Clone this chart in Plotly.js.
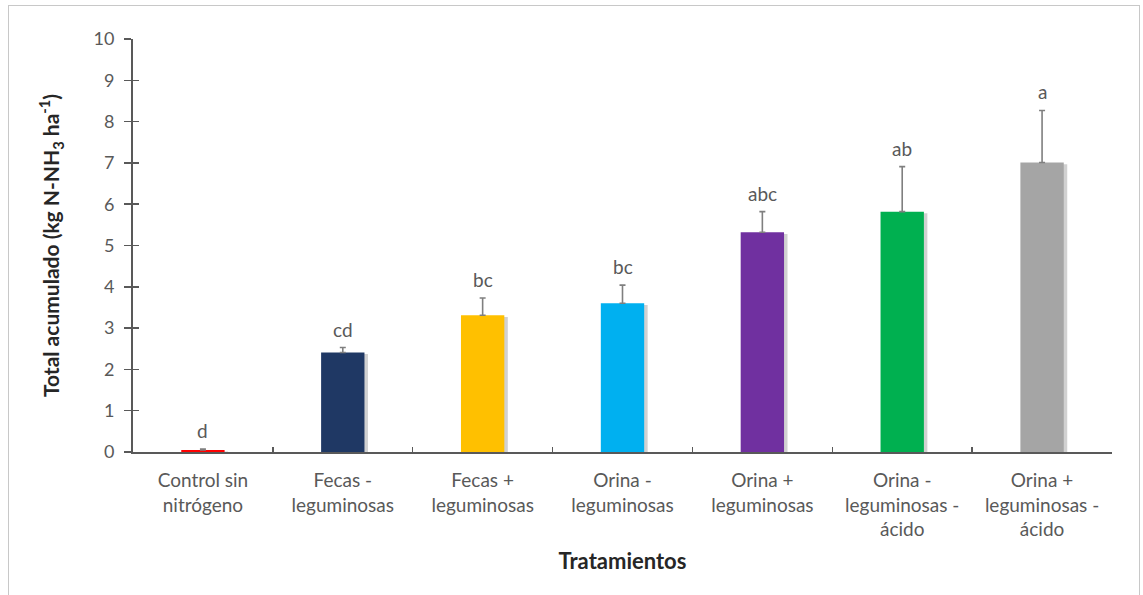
<!DOCTYPE html>
<html>
<head>
<meta charset="utf-8">
<script src="https://cdn.plot.ly/plotly-3.0.1.min.js"></script>
<style>
  html, body { margin: 0; padding: 0; background: #fff; }
  #frame { position: absolute; left: 8px; top: 5px; width: 1132px; height: 640px; border: 1.5px solid #c8c8c8; box-sizing: border-box; pointer-events: none; }
  #chart { position: absolute; left: 0; top: 0; width: 1143px; height: 595px; }
</style>
</head>
<body>
<div id="chart"></div>
<div id="frame"></div>
<script>
const categories = [
  "Control sin<br>nitrógeno",
  "Fecas -<br>leguminosas",
  "Fecas +<br>leguminosas",
  "Orina -<br>leguminosas",
  "Orina +<br>leguminosas",
  "Orina -<br>leguminosas -<br>ácido",
  "Orina +<br>leguminosas -<br>ácido"
];
const values = [0.05, 2.41, 3.31, 3.60, 5.32, 5.82, 7.01];
const errors = [0.02, 0.12, 0.42, 0.44, 0.50, 1.09, 1.26];
const letters = ["d", "cd", "bc", "bc", "abc", "ab", "a"];
const colors = ["#FF0000", "#1F3864", "#FFC000", "#00B0F0", "#7030A0", "#00B050", "#A5A5A5"];
const yTicks = [0, 1, 2, 3, 4, 5, 6, 7, 8, 9, 10];

const barWidth = 0.31;
const fontFam = "Lato, 'Open Sans', 'Liberation Sans', sans-serif";

const shadow = {
  type: "bar",
  x: categories,
  y: values.map(v => Math.max(v - 0.04, 0)),
  width: barWidth,
  offset: -barWidth / 2 + 0.025,
  marker: { color: "rgba(0,0,0,0.18)", line: { width: 0 } },
  hoverinfo: "skip",
  showlegend: false
};

const bars = {
  type: "bar",
  x: categories,
  y: values,
  width: barWidth,
  marker: { color: colors, line: { width: 0 } },
  error_y: {
    type: "data",
    symmetric: false,
    array: errors,
    arrayminus: errors.map(() => 0),
    color: "#7f7f7f",
    thickness: 1.6,
    width: 3
  },
  showlegend: false
};

const axisFrame = {
  type: "scatter",
  x: [categories[0]],
  y: [0],
  yaxis: "y2",
  mode: "markers",
  marker: { opacity: 0 },
  hoverinfo: "skip",
  showlegend: false
};

const annotations = categories.map((c, i) => ({
  x: c,
  y: values[i] + errors[i],
  xref: "x",
  yref: "y",
  text: letters[i],
  showarrow: false,
  yanchor: "bottom",
  yshift: 5,
  font: { family: fontFam, size: 19, color: "#595959" }
}));

const layout = {
  width: 1143,
  height: 595,
  margin: { l: 133, r: 31, t: 39, b: 143 },
  paper_bgcolor: "#ffffff",
  plot_bgcolor: "#ffffff",
  barmode: "overlay",
  font: { family: fontFam, color: "#595959" },
  xaxis: {
    type: "category",
    range: [-0.5, 6.5],
    showline: true,
    linecolor: "#595959",
    linewidth: 2,
    ticks: "inside",
    tickson: "boundaries",
    ticklen: 5,
    tickwidth: 1.5,
    tickcolor: "#595959",
    showgrid: false,
    zeroline: false,
    ticklabelstandoff: 10,
    tickfont: { family: fontFam, size: 19, color: "#595959" },
    title: { text: "Tratamientos", standoff: 14, font: { family: fontFam, size: 22, color: "#262626", weight: "bold" } }
  },
  yaxis: {
    range: [0, 10],
    tickvals: yTicks,
    ticktext: yTicks.map(String),
    showline: true,
    linecolor: "#595959",
    linewidth: 2,
    ticks: "outside",
    ticklen: 7,
    tickwidth: 1.5,
    tickcolor: "#595959",
    showgrid: false,
    zeroline: false,
    ticklabelstandoff: 6,
    tickfont: { family: fontFam, size: 18, color: "#595959" },
    title: { text: "Total acumulado (kg N-NH<sub>3</sub> ha<sup>-1</sup>)", standoff: 28, font: { family: fontFam, size: 21, color: "#262626", weight: "bold" } }
  },
  yaxis2: {
    overlaying: "y",
    matches: "y",
    range: [0, 10],
    tickvals: yTicks,
    ticks: "inside",
    ticklen: 6,
    tickwidth: 1.5,
    tickcolor: "#595959",
    showticklabels: false,
    showgrid: false,
    zeroline: false,
    showline: false
  },
  annotations: annotations,
  showlegend: false
};

Plotly.newPlot("chart", [shadow, bars, axisFrame], layout, { displayModeBar: false, staticPlot: true });
</script>
</body>
</html>
